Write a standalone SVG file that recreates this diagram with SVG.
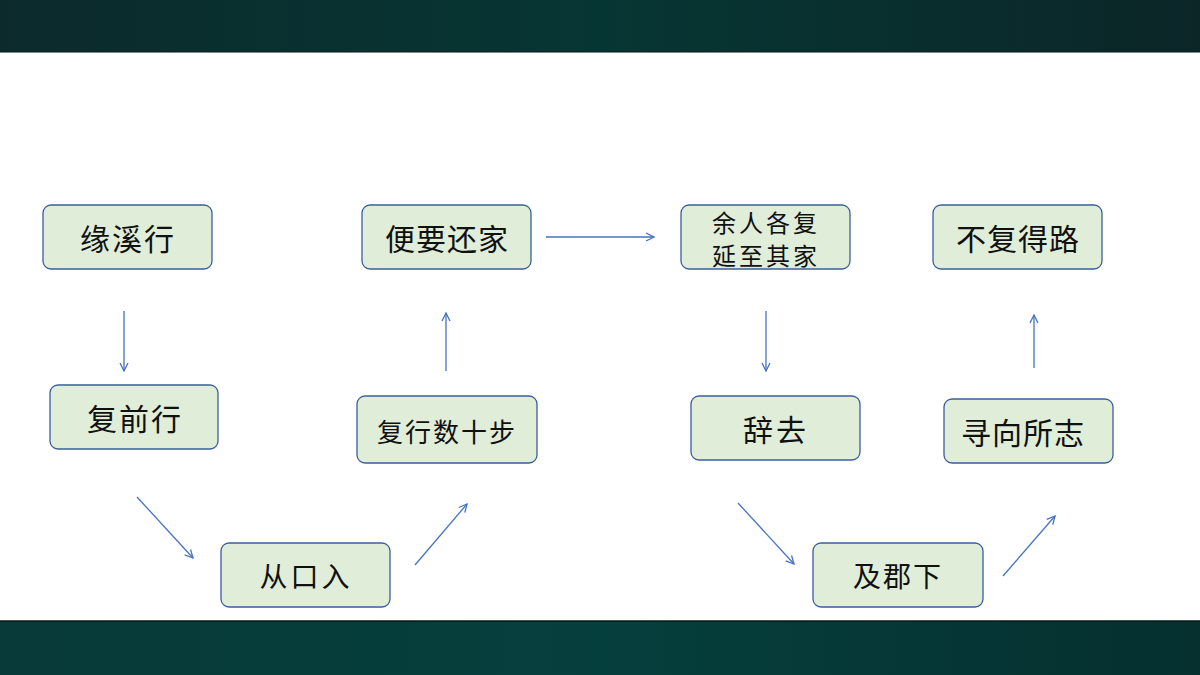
<svg xmlns="http://www.w3.org/2000/svg" width="1200" height="675" viewBox="0 0 1200 675">
<defs>
<linearGradient id="topg" x1="0" y1="0" x2="1" y2="0">
<stop offset="0" stop-color="#0c2a2c"/>
<stop offset="0.5" stop-color="#063633"/>
<stop offset="1" stop-color="#0c2628"/>
</linearGradient>
<linearGradient id="botg" x1="0" y1="0" x2="1" y2="0">
<stop offset="0" stop-color="#073a38"/>
<stop offset="0.5" stop-color="#053f3d"/>
<stop offset="1" stop-color="#05302f"/>
</linearGradient>
<marker id="ah" viewBox="0 0 10 10" refX="9" refY="5" markerWidth="10" markerHeight="10" markerUnits="userSpaceOnUse" orient="auto">
<path d="M1,1 L9,5 L1,9" fill="none" stroke="#4472c4" stroke-width="1.3"/>
</marker>
<style>
.box{fill:#e0eed9;stroke:#3a5f9e;stroke-width:1.3}
.t{font-family:"Noto Sans CJK SC","Noto Sans CJK TC",sans-serif;fill:#111;text-anchor:middle;dominant-baseline:central}
.c{stroke:#4472c4;stroke-width:1.3;fill:none;marker-end:url(#ah)}
</style>
</defs>
<rect x="0" y="0" width="1200" height="675" fill="#ffffff"/>
<rect x="0" y="0" width="1200" height="52" fill="url(#topg)"/>
<rect x="0" y="621" width="1200" height="54" fill="url(#botg)"/>
<line x1="0" y1="621" x2="1200" y2="621" stroke="#021a18" stroke-width="1.5"/>
<line x1="0" y1="52" x2="1200" y2="52" stroke="#021a18" stroke-width="1"/>

<g id="connectors">
<line class="c" x1="124" y1="311" x2="124" y2="371"/>
<line class="c" x1="137" y1="497" x2="193" y2="558"/>
<line class="c" x1="415" y1="565" x2="467" y2="504"/>
<line class="c" x1="446" y1="371" x2="446" y2="313"/>
<line class="c" x1="546" y1="237" x2="654" y2="237"/>
<line class="c" x1="766" y1="311" x2="766" y2="371"/>
<line class="c" x1="738" y1="503" x2="794" y2="564"/>
<line class="c" x1="1003" y1="576" x2="1055" y2="516"/>
<line class="c" x1="1034" y1="368" x2="1034" y2="315"/>
</g>

<g id="n1"><rect class="box" x="43" y="205" width="169" height="64" rx="8"/><text class="t" x="128" y="237" font-size="30" letter-spacing="2">缘溪行</text></g>
<g id="n2"><rect class="box" x="50" y="385" width="168" height="64" rx="8"/><text class="t" x="135" y="417" font-size="30" letter-spacing="2">复前行</text></g>
<g id="n3"><rect class="box" x="221" y="543" width="169" height="64" rx="8"/><text class="t" x="306" y="575" font-size="28" letter-spacing="3">从口入</text></g>
<g id="n4"><rect class="box" x="357" y="396" width="180" height="67" rx="8"/><text class="t" x="447" y="430" font-size="26" letter-spacing="2">复行数十步</text></g>
<g id="n5"><rect class="box" x="362" y="205" width="169" height="64" rx="8"/><text class="t" x="447" y="237" font-size="30" letter-spacing="1">便要还家</text></g>
<g id="n6"><rect class="box" x="681" y="205" width="169" height="64" rx="8"/><text class="t" x="766" y="221" font-size="24" letter-spacing="3">余人各复</text><text class="t" x="766" y="254" font-size="24" letter-spacing="3">延至其家</text></g>
<g id="n7"><rect class="box" x="691" y="396" width="169" height="64" rx="8"/><text class="t" x="776" y="428" font-size="30" letter-spacing="3">辞去</text></g>
<g id="n8"><rect class="box" x="813" y="543" width="170" height="64" rx="8"/><text class="t" x="898" y="575" font-size="28" letter-spacing="2">及郡下</text></g>
<g id="n9"><rect class="box" x="944" y="399" width="169" height="64" rx="8"/><text class="t" x="1023" y="431" font-size="30" letter-spacing="1">寻向所志</text></g>
<g id="n10"><rect class="box" x="933" y="205" width="169" height="64" rx="8"/><text class="t" x="1018" y="237" font-size="30" letter-spacing="1">不复得路</text></g>
</svg>
